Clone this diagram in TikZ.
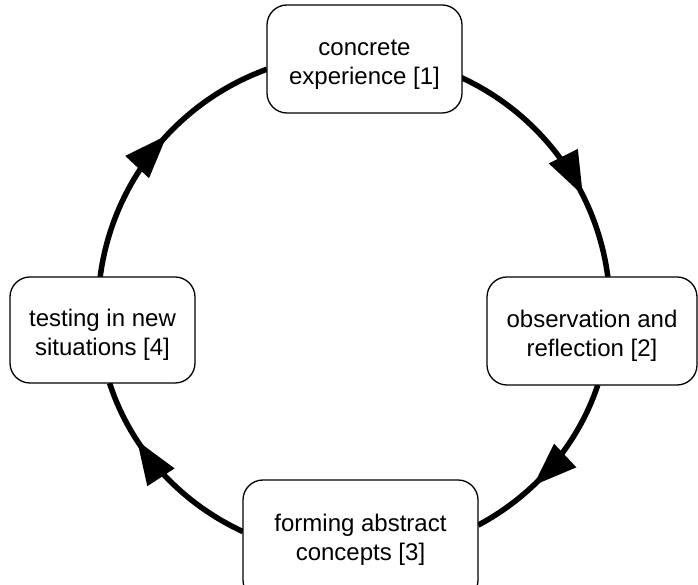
\documentclass[tikz,border=0pt]{standalone}
\usepackage{fontspec}
\setmainfont{Liberation Sans}
\usetikzlibrary{arrows.meta,decorations.markings,calc}
\newcommand{\firstline}{\rule{0pt}{27pt}}
\begin{document}
\begin{tikzpicture}[x=1pt,y=1pt,
  box/.style={draw=black,line width=1.3pt,rounded corners=20pt,fill=white,align=center,inner sep=0pt,font=\fontsize{24}{29}\selectfont},
  cyc/.style={line width=5.5pt,draw=black},
  midarrow/.style={postaction={decorate},decoration={markings,mark=at position #1 with {\arrow{Triangle[length=44pt,width=31pt]}}}}
]
\useasboundingbox (0,0) rectangle (698,585);
\fill[white] (0,0) rectangle (698,585);
\coordinate (c) at (354,275);
% connector end points on the box borders
\coordinate (s1) at ($(c)+(65.5:256)$);
\coordinate (s2) at ($(c)+({256*cos(-17.75)},{246*sin(-17.75)})$);
\coordinate (s3) at ($(c)+({256*cos(244.3)},{246*sin(244.3)})$);
\coordinate (s4) at ($(c)+(172.6:256)$);
% connectors
\draw[cyc,midarrow=0.67] (s1) arc[start angle=65.5,end angle=7.4,radius=256];
\draw[cyc,midarrow=0.64] (s2) arc[start angle=-17.75,end angle=-61,x radius=256,y radius=246];
\draw[cyc,midarrow=0.69] (s3) arc[start angle=244.3,end angle=197.3,x radius=256,y radius=246];
\draw[cyc,midarrow=0.57] (s4) arc[start angle=172.6,end angle=109.9,radius=256];
% boxes
\node[box,minimum width=195pt,minimum height=108pt] (top) at (364.5,526) {\firstline concrete\\experience [1]};
\node[box,minimum width=210pt,minimum height=108pt] (right) at (592,254) {\firstline observation and\\reflection [2]};
\node[box,minimum width=235pt,minimum height=120pt] (bottom) at (360.5,45) {forming abstract\\concepts [3]};
\node[box,minimum width=185pt,minimum height=106pt] (left) at (102.5,255) {\firstline testing in new\\situations [4]};
\end{tikzpicture}
\end{document}
